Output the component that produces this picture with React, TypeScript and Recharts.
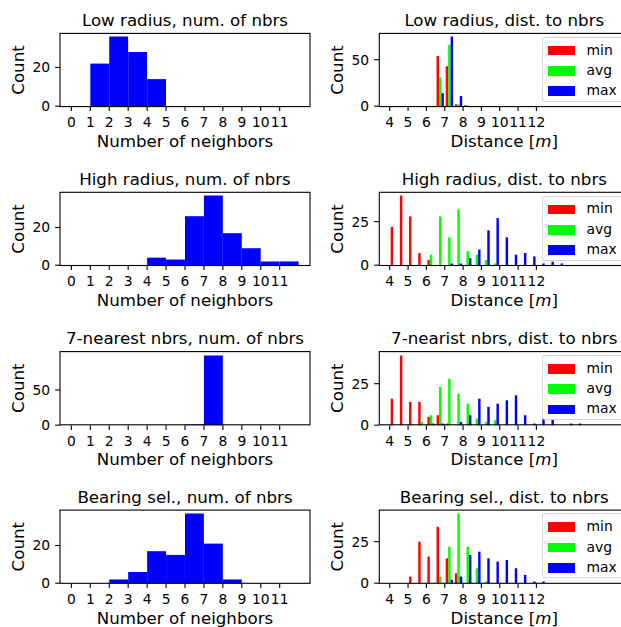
import { BarChart, Bar, XAxis, YAxis, Legend } from "recharts";

// left column: number of neighbours, bins of width 1 starting at these values
const nbrBinStarts = [0, 1, 2, 3, 4, 5, 6, 7, 8, 9, 10, 11];
const nbrTicks = [0, 1, 2, 3, 4, 5, 6, 7, 8, 9, 10, 11];

const lowRadiusNbrs = [0, 22, 36, 28, 14, 0, 0, 0, 0, 0, 0, 0];
const highRadiusNbrs = [0, 0, 0, 0, 4, 3, 26, 37, 17, 9, 2, 2];
const nearestNbrs = [0, 0, 0, 0, 0, 0, 1, 99, 0, 0, 0, 0];
const bearingNbrs = [0, 0, 2, 6, 17, 15, 37, 21, 2, 0, 0, 0];

// right column: distance to neighbours, bins of width 0.5 m
const distBinStarts = [
  4, 4.5, 5, 5.5, 6, 6.5, 7, 7.5, 8, 8.5, 9, 9.5, 10, 10.5, 11, 11.5, 12, 12.5,
  13, 13.5, 14, 14.5, 15, 15.5,
];
const distTicks = [4, 5, 6, 7, 8, 9, 10, 11, 12];
const seriesNames = ["min", "avg", "max"];

const lowRadiusMin = [0, 0, 0, 0, 0, 54, 43, 2, 1, 0, 0, 0, 0, 0, 0, 0, 0, 0, 0, 0, 0, 0, 0, 0];
const lowRadiusAvg = [0, 0, 0, 0, 0, 31, 66, 2, 1, 0, 0, 0, 0, 0, 0, 0, 0, 0, 0, 0, 0, 0, 0, 0];
const lowRadiusMax = [0, 0, 0, 0, 0, 14, 75, 11, 0, 0, 0, 0, 0, 0, 0, 0, 0, 0, 0, 0, 0, 0, 0, 0];

const highRadiusMin = [22, 40, 28, 7, 3, 0, 0, 0, 0, 0, 0, 0, 0, 0, 0, 0, 0, 0, 0, 0, 0, 0, 0, 0];
const highRadiusAvg = [0, 0, 0, 0, 6, 28, 16, 32, 8, 6, 3, 1, 0, 0, 0, 0, 0, 0, 0, 0, 0, 0, 0, 0];
const highRadiusMax = [0, 0, 0, 0, 0, 0, 1, 1, 4, 9, 20, 27, 16, 6, 7, 5, 1, 2, 1, 0, 0, 0, 0, 0];

const nearestMin = [16, 42, 14, 14, 5, 6, 1, 0, 0, 0, 0, 0, 0, 0, 0, 0, 0, 0, 0, 0, 0, 0, 0, 0];
const nearestAvg = [0, 0, 0, 2, 6, 23, 28, 19, 13, 4, 2, 3, 0, 0, 0, 0, 0, 0, 0, 0, 0, 0, 0, 0];
const nearestMax = [0, 0, 0, 0, 1, 1, 0, 2, 6, 16, 11, 13, 15, 18, 6, 1, 4, 4, 0, 1, 1, 0, 0, 0];

const bearingMin = [0, 0, 4, 25, 16, 34, 15, 6, 0, 0, 0, 0, 0, 0, 0, 0, 0, 0, 0, 0, 0, 0, 0, 0];
const bearingAvg = [0, 0, 0, 0, 0, 4, 22, 42, 22, 9, 1, 0, 0, 0, 0, 0, 0, 0, 0, 0, 0, 0, 0, 0];
const bearingMax = [0, 0, 0, 0, 0, 0, 2, 4, 17, 19, 15, 13, 14, 9, 5, 1, 1, 0, 0, 0, 0, 0, 0, 0];

const rows = [
  {
    name: "Low radius",
    distName: "Low radius",
    nbrs: lowRadiusNbrs,
    nbrTicksY: [0, 20],
    min: lowRadiusMin,
    avg: lowRadiusAvg,
    max: lowRadiusMax,
    distTicksY: [0, 50],
  },
  {
    name: "High radius",
    distName: "High radius",
    nbrs: highRadiusNbrs,
    nbrTicksY: [0, 20],
    min: highRadiusMin,
    avg: highRadiusAvg,
    max: highRadiusMax,
    distTicksY: [0, 25],
  },
  {
    name: "7-nearest nbrs",
    distName: "7-nearist nbrs",
    nbrs: nearestNbrs,
    nbrTicksY: [0, 50],
    min: nearestMin,
    avg: nearestAvg,
    max: nearestMax,
    distTicksY: [0, 25],
  },
  {
    name: "Bearing sel.",
    distName: "Bearing sel.",
    nbrs: bearingNbrs,
    nbrTicksY: [0, 20],
    min: bearingMin,
    avg: bearingAvg,
    max: bearingMax,
    distTicksY: [0, 25],
  },
];

const FONT = "'DejaVu Sans', sans-serif";
const TICK_FONT = 13.9;
const LABEL_FONT = 16.67;

const AX_W = 250;
const AX_H = 73.2;
const ROW_TOPS = [33.4, 192.3, 351.6, 510.1];
const LEFT_X = 60;
const RIGHT_X = 379.3;
const Y_AXIS_W = 50;
const TOP_PAD = 10;
const X_AXIS_H = 40;

const NBR_DOMAIN: [number, number] = [-0.6, 12.6];
const DIST_DOMAIN: [number, number] = [3.416, 17.05];
const NBR_BIN = 1;
const DIST_BIN = 0.5;

const tickStyle = { fill: "#000", fontSize: TICK_FONT };
const tickLine = { stroke: "#000", strokeWidth: 1.1 };

const LegendBox = (props: any) => {
  const payload = [...(props.payload || [])].sort(
    (a: any, b: any) => seriesNames.indexOf(a.value) - seriesNames.indexOf(b.value)
  );
  return (
    <div
      style={{
        width: 82,
        height: 65,
        boxSizing: "border-box",
        background: "rgba(255,255,255,0.8)",
        border: "1px solid rgba(204,204,204,0.8)",
        borderRadius: 3,
        paddingTop: 2.6,
        paddingLeft: 4.4,
        fontFamily: FONT,
      }}
    >
      {payload.map((p: any) => (
        <div key={p.value} style={{ display: "flex", alignItems: "center", height: 20.35 }}>
          <span style={{ width: 27.8, height: 9.7, background: p.color, marginRight: 11.1 }} />
          <span style={{ fontSize: TICK_FONT, lineHeight: 1, color: "#000" }}>{p.value}</span>
        </div>
      ))}
    </div>
  );
};

const NbrPanel = ({ top, counts, yTicks }: { top: number; counts: number[]; yTicks: number[] }) => {
  const data = nbrBinStarts.map((b, i) => ({ x: b + NBR_BIN / 2, count: counts[i] }));
  const barSize = (AX_W / (NBR_DOMAIN[1] - NBR_DOMAIN[0])) * NBR_BIN - 0.04;
  return (
    <div style={{ position: "absolute", left: LEFT_X - Y_AXIS_W, top: top - TOP_PAD }}>
      <BarChart
        width={Y_AXIS_W + AX_W}
        height={TOP_PAD + AX_H + X_AXIS_H}
        data={data}
        margin={{ top: TOP_PAD, right: 0, bottom: 0, left: 0 }}
        barGap={0}
        barCategoryGap={0}
      >
        <XAxis
          dataKey="x"
          type="number"
          domain={NBR_DOMAIN}
          ticks={nbrTicks}
          interval={0}
          height={X_AXIS_H}
          axisLine={false}
          tickLine={tickLine}
          tickSize={4.86}
          tickMargin={6.1}
          tick={tickStyle}
        />
        <YAxis
          type="number"
          domain={[0, (m: number) => m * 1.05]}
          ticks={yTicks}
          width={Y_AXIS_W}
          axisLine={false}
          tickLine={tickLine}
          tickSize={4.86}
          tickMargin={5}
          tick={tickStyle}
        />
        <Bar dataKey="count" fill="#0000ff" barSize={barSize} isAnimationActive={false} />
      </BarChart>
    </div>
  );
};

const DistPanel = ({
  top,
  min,
  avg,
  max,
  yTicks,
}: {
  top: number;
  min: number[];
  avg: number[];
  max: number[];
  yTicks: number[];
}) => {
  const data = distBinStarts.map((b, i) => ({
    x: b + DIST_BIN / 2,
    min: min[i],
    avg: avg[i],
    max: max[i],
  }));
  const binPx = (AX_W / (DIST_DOMAIN[1] - DIST_DOMAIN[0])) * DIST_BIN;
  const barSize = (binPx * 0.8) / 3;
  return (
    <div style={{ position: "absolute", left: RIGHT_X - Y_AXIS_W, top: top - TOP_PAD }}>
      <BarChart
        width={Y_AXIS_W + AX_W}
        height={TOP_PAD + AX_H + X_AXIS_H}
        data={data}
        margin={{ top: TOP_PAD, right: 0, bottom: 0, left: 0 }}
        barGap={0}
      >
        <XAxis
          dataKey="x"
          type="number"
          domain={DIST_DOMAIN}
          ticks={distTicks}
          interval={0}
          height={X_AXIS_H}
          axisLine={false}
          tickLine={tickLine}
          tickSize={4.86}
          tickMargin={6.1}
          tick={tickStyle}
        />
        <YAxis
          type="number"
          domain={[0, (m: number) => m * 1.05]}
          ticks={yTicks}
          width={Y_AXIS_W}
          axisLine={false}
          tickLine={tickLine}
          tickSize={4.86}
          tickMargin={5}
          tick={tickStyle}
        />
        <Legend
          layout="vertical"
          align="center"
          verticalAlign="middle"
          content={LegendBox}
          wrapperStyle={{ left: 213, top: 13.3, width: "auto", height: "auto" }}
        />
        <Bar dataKey="min" name="min" fill="#ff0000" barSize={barSize} isAnimationActive={false} />
        <Bar dataKey="avg" name="avg" fill="#00ff00" barSize={barSize} isAnimationActive={false} />
        <Bar dataKey="max" name="max" fill="#0000ff" barSize={barSize} isAnimationActive={false} />
      </BarChart>
    </div>
  );
};

export default function App() {
  return (
    <div
      style={{
        position: "absolute",
        left: 0,
        top: 0,
        width: 621,
        height: 627,
        overflow: "hidden",
        background: "#fff",
        fontFamily: FONT,
      }}
    >
      {rows.map((r, i) => (
        <NbrPanel key={"n" + i} top={ROW_TOPS[i]} counts={r.nbrs} yTicks={r.nbrTicksY} />
      ))}
      {rows.map((r, i) => (
        <DistPanel
          key={"d" + i}
          top={ROW_TOPS[i]}
          min={r.min}
          avg={r.avg}
          max={r.max}
          yTicks={r.distTicksY}
        />
      ))}
      <svg
        width={621}
        height={627}
        style={{ position: "absolute", left: 0, top: 0, pointerEvents: "none" }}
        fontFamily={FONT}
      >
        {rows.map((r, i) => {
          const t = ROW_TOPS[i];
          const b = t + AX_H;
          return (
            <g key={"o" + i} fill="#000" fontSize={LABEL_FONT}>
              <rect x={LEFT_X} y={t} width={AX_W} height={AX_H} fill="none" stroke="#000" strokeWidth={1.1} />
              <rect x={RIGHT_X} y={t} width={AX_W} height={AX_H} fill="none" stroke="#000" strokeWidth={1.1} />
              <text x={LEFT_X + AX_W / 2} y={t - 7.5} textAnchor="middle">
                {r.name + ", num. of nbrs"}
              </text>
              <text x={RIGHT_X + AX_W / 2} y={t - 7.5} textAnchor="middle">
                {r.distName + ", dist. to nbrs"}
              </text>
              <text x={LEFT_X + AX_W / 2} y={b + 40.5} textAnchor="middle">
                Number of neighbors
              </text>
              <text x={RIGHT_X + AX_W / 2} y={b + 40.5} textAnchor="middle">
                {"Distance ["}
                <tspan fontStyle="italic">m</tspan>
                {"]"}
              </text>
              <text
                x={LEFT_X - 36}
                y={t + AX_H / 2}
                textAnchor="middle"
                transform={`rotate(-90 ${LEFT_X - 36} ${t + AX_H / 2})`}
              >
                Count
              </text>
              <text
                x={RIGHT_X - 36}
                y={t + AX_H / 2}
                textAnchor="middle"
                transform={`rotate(-90 ${RIGHT_X - 36} ${t + AX_H / 2})`}
              >
                Count
              </text>
            </g>
          );
        })}
      </svg>
    </div>
  );
}
